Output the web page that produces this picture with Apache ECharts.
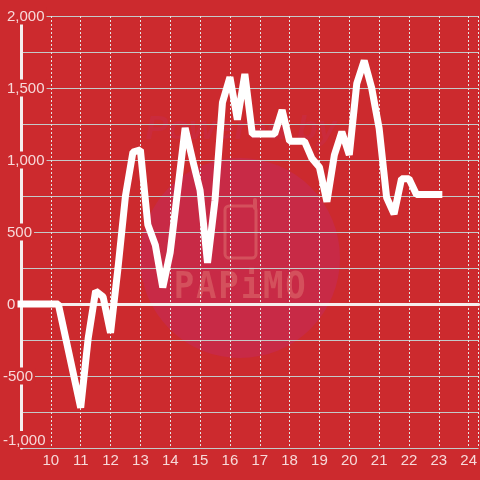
<!DOCTYPE html>
<html>
<head>
<meta charset="utf-8">
<style>
  html, body { margin: 0; padding: 0; background: #cc2a2e; }
  #chart { width: 480px; height: 480px; }
</style>
<script src="https://cdn.jsdelivr.net/npm/echarts@6/dist/echarts.min.js"></script>
</head>
<body>
<div id="chart"></div>
<script>
// hours of the day
const hours = [9, 10.25, 10.5, 11, 11.25, 11.5, 11.75, 12, 12.25, 12.5, 12.75, 13, 13.25, 13.5, 13.75,
  14, 14.25, 14.5, 14.75, 15, 15.25, 15.5, 15.75, 16, 16.25, 16.5, 16.75, 17, 17.25, 17.5, 17.75,
  18, 18.25, 18.5, 18.75, 19, 19.25, 19.5, 19.75, 20, 20.25, 20.5, 20.75, 21, 21.25, 21.5, 21.75,
  22, 22.25, 22.5, 22.75, 23];
const values = [0, 0, -240, -720, -240, 90, 50, -200, 250, 750, 1055, 1070, 550, 410, 115,
  360, 790, 1222, 1000, 790, 285, 720, 1400, 1575, 1280, 1597, 1180, 1180, 1180, 1180, 1347,
  1130, 1130, 1130, 1010, 950, 710, 1035, 1195, 1035, 1530, 1690, 1500, 1220, 740, 625, 870,
  870, 760, 760, 760, 760];

const bgColor = '#cc2a2e';
const labelColor = '#f7d9d9';
const gridColor = '#c4c9c9';
const markColor = '#d4505c';
const logoLetters = ['P', 'A', 'P', 'i', 'M', 'O'];
const xMax = 24.3333;

const chart = echarts.init(document.getElementById('chart'));

const letterGraphics = logoLetters.map((letter, i) => ({
  type: 'text',
  z: -8,
  silent: true,
  x: 184 + i * 22.3,
  y: 288,
  scaleY: 1.1,
  style: {
    text: letter,
    fill: markColor,
    font: 'bold 34px "DejaVu Sans Mono"',
    align: 'center',
    verticalAlign: 'middle'
  }
}));

chart.setOption({
  animation: false,
  backgroundColor: bgColor,
  grid: { left: 20, right: 0, top: 16, height: 432 },
  graphic: [
    {
      type: 'circle',
      z: -10,
      silent: true,
      shape: { cx: 240, cy: 258, r: 100 },
      style: { fill: '#c82a46' }
    },
    {
      type: 'text',
      z: -9,
      silent: true,
      x: 241,
      y: 130,
      style: {
        text: 'Powered by',
        fill: '#ca2b3c',
        font: 'italic bold 34px "Liberation Sans"',
        align: 'center',
        verticalAlign: 'middle'
      }
    },
    {
      type: 'rect',
      z: -8,
      silent: true,
      shape: { x: 225, y: 206, width: 31, height: 52, r: 4 },
      style: { fill: 'none', stroke: markColor, lineWidth: 3 }
    },
    {
      type: 'line',
      z: -8,
      silent: true,
      shape: { x1: 255, y1: 208, x2: 255, y2: 200 },
      style: { stroke: markColor, lineWidth: 4, lineCap: 'round' }
    },
    ...letterGraphics
  ],
  xAxis: [
    {
      type: 'value',
      position: 'bottom',
      min: 9,
      max: xMax,
      interval: 1,
      axisLine: { show: false, onZero: false },
      axisTick: { show: false },
      splitLine: { show: true, lineStyle: { color: '#e4e4e4', width: 1, type: [2, 2] } },
      axisLabel: {
        color: labelColor,
        fontFamily: 'Liberation Sans',
        fontSize: 15,
        margin: 5,
        showMinLabel: false,
        showMaxLabel: false
      }
    },
    {
      // white zero line, labels stay on the other axis
      type: 'value',
      min: 9,
      max: xMax,
      interval: 1,
      axisLine: { show: true, onZero: true, lineStyle: { color: '#f5eeee', width: 3 } },
      axisTick: { show: false },
      axisLabel: { show: false },
      splitLine: { show: false }
    }
  ],
  yAxis: {
    type: 'value',
    min: -1000,
    max: 2000,
    interval: 500,
    minorTick: { show: false, splitNumber: 2 },
    splitLine: { show: true, lineStyle: { color: gridColor, width: 1 } },
    minorSplitLine: { show: true, lineStyle: { color: gridColor, width: 1 } },
    axisLine: { show: true, onZero: false, lineStyle: { color: '#f5eeee', width: 3 } },
    axisTick: { show: false },
    axisLabel: {
      margin: 18,
      align: 'left',
      color: labelColor,
      fontFamily: 'Liberation Sans',
      fontSize: 15,
      backgroundColor: bgColor,
      padding: [2, 2, 0, 0],
      verticalAlignMinLabel: 'bottom',
      formatter: function (v) {
        const txt = echarts.format.addCommas(v);
        return v < 0 ? txt : '{pos|' + txt + '}';
      },
      rich: {
        pos: {
          color: labelColor,
          fontFamily: 'Liberation Sans',
          fontSize: 15,
          padding: [0, 0, 0, 4]
        }
      }
    }
  },
  series: [
    {
      type: 'line',
      xAxisIndex: 0,
      data: hours.map((h, i) => [h, values[i]]),
      symbol: 'none',
      clip: false,
      lineStyle: { color: '#ffffff', width: 7, cap: 'square', join: 'bevel' }
    }
  ]
});
</script>
</body>
</html>
